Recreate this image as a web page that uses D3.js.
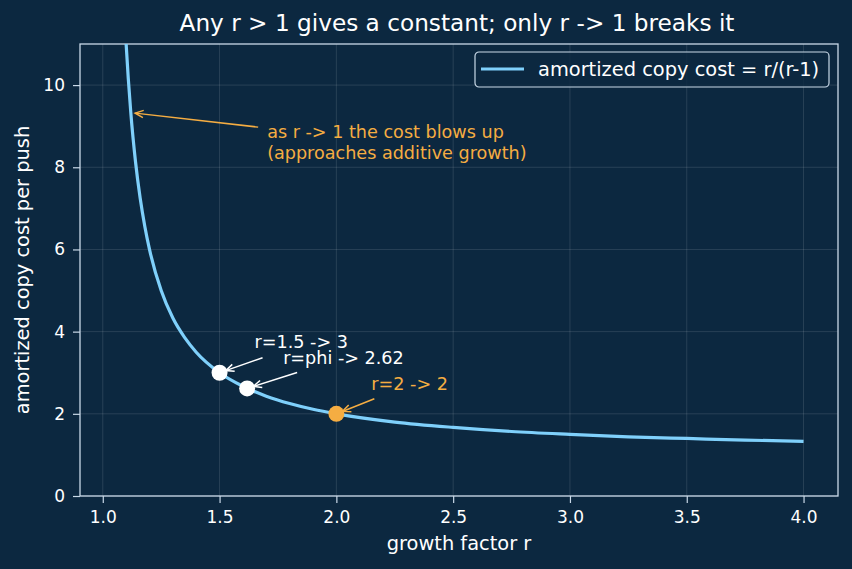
<!DOCTYPE html>
<html>
<head>
<meta charset="utf-8">
<script src="https://cdn.jsdelivr.net/npm/d3@7"></script>
<style>
  html, body { margin: 0; padding: 0; background: #0c2840; }
  svg { display: block; font-family: "DejaVu Sans", sans-serif; }
</style>
</head>
<body>
<script>
// data
var growth = [1.05, 1.06, 1.07, 1.08, 1.09, 1.10, 1.12, 1.14, 1.16, 1.18, 1.20, 1.25, 1.30, 1.35, 1.40,
              1.50, 1.60, 1.70, 1.80, 1.90, 2.00, 2.25, 2.50, 2.75, 3.00, 3.25, 3.50, 3.75, 4.00];
var cost   = [21.0, 17.67, 15.29, 13.5, 12.11, 11.0, 9.33, 8.14, 7.25, 6.56, 6.0, 5.0, 4.33, 3.86, 3.5,
              3.0, 2.67, 2.43, 2.25, 2.11, 2.0, 1.8, 1.67, 1.57, 1.5, 1.44, 1.4, 1.36, 1.33];
var xTicks = [1.0, 1.5, 2.0, 2.5, 3.0, 3.5, 4.0];
var yTicks = [0, 2, 4, 6, 8, 10];
var points = [
  {r: 1.5,   c: 3.0,   label: "r=1.5 -> 3",    fill: "#ffffff", dx: 35, dy: -25, tx: 43, ty: -15},
  {r: 1.618, c: 2.618, label: "r=phi -> 2.62", fill: "#ffffff", dx: 36, dy: -24, tx: 50, ty: -16},
  {r: 2.0,   c: 2.0,   label: "r=2 -> 2",      fill: "#f5ad42", dx: 35, dy: -24, tx: 38, ty: -15}
];
var note = {r: 1.13, c: 9.33, lines: ["as r -> 1 the cost blows up", "(approaches additive growth)"]};

var W = 852, H = 569;
var m = {left: 80, right: 14, top: 44, bottom: 73};
var blue = "#7fd0fb", orange = "#f5ad42", ink = "#ffffff", spine = "#c9d9e8";

var svg = d3.select("body").append("svg")
            .attr("width", W)
            .attr("height", H);
svg.append("rect").attr("width", W).attr("height", H).attr("fill", "#0c2840");

var x = d3.scaleLinear().domain([0.9025, 4.1475]).range([m.left, W - m.right]);
var y = d3.scaleLinear().domain([0, 11]).range([H - m.bottom, m.top]);

svg.append("defs").append("clipPath").attr("id", "plotclip")
   .append("rect")
   .attr("x", m.left).attr("y", m.top)
   .attr("width", W - m.left - m.right).attr("height", H - m.top - m.bottom);

// grid
svg.append("g").selectAll("line").data(xTicks).enter().append("line")
   .attr("x1", function(d){ return x(d); }).attr("x2", function(d){ return x(d); })
   .attr("y1", m.top).attr("y2", H - m.bottom)
   .attr("stroke", "#ffffff").attr("stroke-opacity", 0.15).attr("stroke-width", 0.8);
svg.append("g").selectAll("line").data(yTicks).enter().append("line")
   .attr("y1", function(d){ return y(d); }).attr("y2", function(d){ return y(d); })
   .attr("x1", m.left).attr("x2", W - m.right)
   .attr("stroke", "#ffffff").attr("stroke-opacity", 0.15).attr("stroke-width", 0.8);

// axes
var xAxis = svg.append("g")
   .attr("transform", "translate(0," + (H - m.bottom) + ")")
   .call(d3.axisBottom(x).tickValues(xTicks).tickFormat(d3.format(".1f")).tickSize(7).tickPadding(8));
var yAxis = svg.append("g")
   .attr("transform", "translate(" + m.left + ",0)")
   .call(d3.axisLeft(y).tickValues(yTicks).tickFormat(d3.format("d")).tickSize(7).tickPadding(8));
[xAxis, yAxis].forEach(function(a){
  a.select(".domain").remove();
  a.selectAll(".tick line").attr("stroke", spine).attr("stroke-width", 1.2);
  a.selectAll(".tick text").attr("fill", ink).style("font-size", "17px")
   .style("font-family", "DejaVu Sans, sans-serif");
});

// frame
svg.append("rect")
   .attr("x", m.left).attr("y", m.top)
   .attr("width", W - m.left - m.right).attr("height", H - m.top - m.bottom)
   .attr("fill", "none").attr("stroke", spine).attr("stroke-width", 1.3);

// curve
var line = d3.line()
   .x(function(d, i){ return x(growth[i]); })
   .y(function(d, i){ return y(cost[i]); })
   .curve(d3.curveMonotoneX);
svg.append("path")
   .datum(growth)
   .attr("clip-path", "url(#plotclip)")
   .attr("d", line)
   .attr("fill", "none")
   .attr("stroke", blue)
   .attr("stroke-width", 3.2);

// open "->" arrow from (x1,y1) to (x2,y2)
function arrow(g, x1, y1, x2, y2, color){
  g.append("line").attr("x1", x1).attr("y1", y1).attr("x2", x2).attr("y2", y2)
   .attr("stroke", color).attr("stroke-width", 1.5);
  var ang = Math.atan2(y2 - y1, x2 - x1), len = 9, spread = 0.42;
  var p = d3.path();
  p.moveTo(x2 - len * Math.cos(ang - spread), y2 - len * Math.sin(ang - spread));
  p.lineTo(x2, y2);
  p.lineTo(x2 - len * Math.cos(ang + spread), y2 - len * Math.sin(ang + spread));
  g.append("path").attr("d", p.toString()).attr("fill", "none")
   .attr("stroke", color).attr("stroke-width", 1.5);
}

// markers
svg.append("g").selectAll("circle").data(points).enter().append("circle")
   .attr("cx", function(d){ return x(d.r); })
   .attr("cy", function(d){ return y(d.c); })
   .attr("r", 8)
   .attr("fill", function(d){ return d.fill; });

var ann = svg.append("g");
points.forEach(function(p){
  var px = x(p.r), py = y(p.c);
  var col = p.fill === "#ffffff" ? ink : orange;
  var d = Math.sqrt(p.tx * p.tx + p.ty * p.ty);
  arrow(ann, px + p.tx, py + p.ty, px + p.tx / d * 6.5, py + p.ty / d * 6.5, col);
});
svg.append("g").selectAll("text").data(points).enter().append("text")
   .attr("x", function(d){ return x(d.r) + d.dx; })
   .attr("y", function(d){ return y(d.c) + d.dy; })
   .attr("fill", function(d){ return d.fill === "#ffffff" ? ink : orange; })
   .style("font-size", "17.6px")
   .text(function(d){ return d.label; });

// note near the asymptote
var nx = x(note.r), ny = y(note.c);
arrow(ann, nx + 125, ny + 14.5, nx + 2, ny + 0.5, orange);
svg.append("g").selectAll("text").data(note.lines).enter().append("text")
   .attr("x", nx + 134)
   .attr("y", function(d, i){ return ny + 25.5 + i * 20.5; })
   .attr("fill", orange)
   .style("font-size", "17.6px")
   .text(function(d){ return d; });

// title and labels
svg.append("text").attr("x", (m.left + W - m.right) / 2 - 2).attr("y", 31)
   .attr("text-anchor", "middle").attr("fill", ink).style("font-size", "23.2px")
   .text("Any r > 1 gives a constant; only r -> 1 breaks it");
svg.append("text").attr("x", (m.left + W - m.right) / 2).attr("y", 550)
   .attr("text-anchor", "middle").attr("fill", ink).style("font-size", "19.4px")
   .text("growth factor r");
svg.append("text")
   .attr("transform", "translate(29," + ((m.top + H - m.bottom) / 2) + ") rotate(-90)")
   .attr("text-anchor", "middle").attr("fill", ink).style("font-size", "19.4px")
   .text("amortized copy cost per push");

// legend
var lg = svg.append("g").attr("transform", "translate(475,52)");
lg.append("rect").attr("width", 354).attr("height", 35).attr("rx", 4)
  .attr("fill", "#0c2840").attr("fill-opacity", 0.8)
  .attr("stroke", spine).attr("stroke-width", 1.2);
lg.append("line").attr("x1", 6).attr("x2", 49).attr("y1", 17).attr("y2", 17)
  .attr("stroke", blue).attr("stroke-width", 3.2);
lg.append("text").attr("x", 63).attr("y", 24).attr("fill", ink)
  .style("font-size", "19.4px").text("amortized copy cost = r/(r-1)");
</script>
</body>
</html>
